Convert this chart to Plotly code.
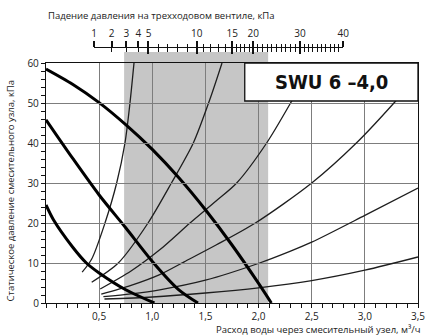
import numpy as np
import plotly.graph_objects as go

# ---------------- data ----------------
# thick curves (pump / mixing unit characteristics)
pump_a_q = [0, 0.25, 0.5, 0.75, 1.0, 1.25, 1.5, 1.75, 2.0, 2.12]
pump_a_h = [58.5, 54.7, 50.1, 44.6, 38.4, 31.3, 23.3, 14.5, 4.9, 0]
pump_b_q = [0, 0.25, 0.5, 0.75, 1.0, 1.25, 1.43]
pump_b_h = [45.8, 36.2, 27.0, 18.8, 10.4, 3.3, 0]
pump_c_q = [0, 0.07, 0.25, 0.38, 0.5, 0.75, 1.02]
pump_c_h = [24.5, 20.8, 14.0, 10.0, 7.5, 3.3, 0]

# thin curves (system characteristics)
sys1_q = [0.34, 0.43, 0.555, 0.665, 0.743, 0.79, 0.828]
sys1_h = [7.7, 11.0, 20, 30, 40, 50, 60]
sys2_q = [0.43, 0.68, 0.96, 1.18, 1.386, 1.543, 1.656]
sys2_h = [5.2, 10, 20, 30, 40, 51, 60]
sys3_q = [0.51, 0.8, 1.07, 1.355, 1.6, 1.794, 2.076, 2.31, 2.51]
sys3_h = [3.5, 8.0, 13.3, 20, 25.5, 30, 40, 50.4, 60]
sys4_q = [0.52, 0.8, 1.07, 1.3, 1.6, 1.97, 2.5, 2.92, 3.28, 3.5]
sys4_h = [2.2, 4.4, 7.1, 10.3, 14.5, 20, 30, 40, 50.2, 57]
sys5_q = [0.54, 0.8, 1.07, 1.5, 2.01, 2.295, 2.5, 3.0, 3.5]
sys5_h = [1.6, 2.3, 3.3, 5.7, 10, 12.9, 15.2, 21.9, 28.75]
sys6_q = [0.55, 1.0, 1.5, 2.0, 2.5, 3.0, 3.5]
sys6_h = [1.0, 1.5, 2.5, 3.8, 5.6, 8.2, 11.5]

# valve pressure-drop scale (kPa) and equivalent flow positions (m3/h)
dp_labels = [1, 2, 3, 4, 5, 10, 15, 20, 30, 40]
dp_flow = [0.4516, 0.6181, 0.7555, 0.8683, 0.9643, 1.4177, 1.7526, 1.9502, 2.3896, 2.7970]
dp_major = [1, 5, 10, 15, 20, 30, 40]

# recommended flow range (grey band)
band_q = [0.735, 2.09]

x_ticks = [0.5, 1.0, 1.5, 2.0, 2.5, 3.0, 3.5]
y_ticks = [0, 10, 20, 30, 40, 50, 60]
x_range = [0, 3.5]
y_range = [0, 60]
label_box = [1.87, 3.5, 50.5, 60]

title_top = "Падение давления на трехходовом вентиле, кПа"
title_x = "Расход воды через смесительный узел, м³/ч"
title_y = "Статическое давление смесительного узла, кПа"
model = "SWU 6 –4,0"

# ---------------- figure ----------------
FONT = "Open Sans"
fig = go.Figure()

thin = [(sys1_q, sys1_h), (sys2_q, sys2_h), (sys3_q, sys3_h),
        (sys4_q, sys4_h), (sys5_q, sys5_h), (sys6_q, sys6_h)]
for q, h in thin:
    fig.add_trace(go.Scatter(x=q, y=h, mode="lines",
                             line=dict(color="#1e1e1e", width=1.3, shape="spline", smoothing=0.8),
                             hoverinfo="skip", showlegend=False))
for q, h in [(pump_a_q, pump_a_h), (pump_b_q, pump_b_h), (pump_c_q, pump_c_h)]:
    fig.add_trace(go.Scatter(x=q, y=h, mode="lines",
                             line=dict(color="#000000", width=3, shape="spline", smoothing=0.8),
                             hoverinfo="skip", showlegend=False))

# invisible traces to activate the top pressure scale axes
dp_all = list(range(1, 41))
dp_minor_flow = list(np.interp(dp_all, dp_labels, dp_flow))
fig.add_trace(go.Scatter(x=[dp_flow[0], dp_flow[-1]], y=[None, None], xaxis="x2", yaxis="y",
                         mode="lines", showlegend=False, hoverinfo="skip"))
fig.add_trace(go.Scatter(x=[dp_flow[0], dp_flow[-1]], y=[None, None], xaxis="x3", yaxis="y",
                         mode="lines", showlegend=False, hoverinfo="skip"))

major_flow = [dp_flow[dp_labels.index(p)] for p in dp_major]

# layout geometry
W, H = 425, 336
ml, mr, mt, mb = 46, 7, 10, 33
paper_h = H - mt - mb
paper_w = W - ml - mr
y_dom_top = 240 / paper_h
scale_pos = (paper_h - (47.3 - mt)) / paper_h
band_top = (paper_h - (52 - mt)) / paper_h

dom = [dp_flow[0] / x_range[1], dp_flow[-1] / x_range[1]]

common_top = dict(range=[dp_flow[0], dp_flow[-1]], domain=dom, anchor="free",
                  position=scale_pos, side="top", showgrid=False, zeroline=False,
                  showline=True, linecolor="#111", linewidth=1.3, automargin=False)

fig.update_layout(
    template="none",
    width=W, height=H,
    margin=dict(l=ml, r=mr, t=mt, b=mb, autoexpand=False),
    paper_bgcolor="white", plot_bgcolor="rgba(0,0,0,0)",
    separators=", ",
    showlegend=False,
    font=dict(family=FONT, size=10, color="#222"),
    xaxis=dict(range=x_range, tickvals=x_ticks, tickformat=".1f", automargin=False,
               ticklabeloverflow="allow",
               showgrid=True, gridcolor="#7d7d7d", gridwidth=1.2,
               showline=True, linecolor="#111", linewidth=1.3, mirror=True,
               ticks="outside", ticklen=4, tickcolor="#111", tickwidth=1,
               minor=dict(dtick=0.1, tick0=0, ticks="outside", ticklen=4,
                          tickcolor="#111", tickwidth=1, showgrid=False),
               zeroline=False, tickfont=dict(size=10, family=FONT, color="#222")),
    yaxis=dict(range=y_range, tickvals=y_ticks, domain=[0, y_dom_top], automargin=False,
               showgrid=True, gridcolor="#7d7d7d", gridwidth=1.2,
               showline=True, linecolor="#111", linewidth=1.3, mirror=True,
               ticks="outside", ticklen=4, tickcolor="#111", tickwidth=1,
               minor=dict(dtick=2, tick0=0, ticks="outside", ticklen=4,
                          tickcolor="#111", tickwidth=1, showgrid=False),
               zeroline=False, tickfont=dict(size=10, family=FONT, color="#222")),
    xaxis2=dict(**common_top, tickvals=dp_flow, ticktext=[str(p) for p in dp_labels],
                ticks="outside", ticklen=6, tickwidth=1.5, tickcolor="#111",
                minor=dict(tickmode="array", tickvals=dp_minor_flow, ticks="outside",
                           ticklen=3.5, tickwidth=1, tickcolor="#111"),
                tickfont=dict(size=10, family=FONT, color="#222")),
    xaxis3=dict(**common_top, tickvals=major_flow, showticklabels=False,
                ticks="inside", ticklen=6, tickwidth=1.5, tickcolor="#111",
                minor=dict(tickmode="array", tickvals=dp_minor_flow, ticks="inside",
                           ticklen=4, tickwidth=1, tickcolor="#111")),
)

# grey band
fig.add_shape(type="rect", xref="x", yref="paper", x0=band_q[0], x1=band_q[1],
              y0=0, y1=band_top, fillcolor="#c6c6c6", line=dict(width=0), layer="below")
# label box
fig.add_shape(type="rect", xref="x", yref="y", x0=label_box[0], x1=label_box[1],
              y0=label_box[2], y1=label_box[3], fillcolor="white",
              line=dict(color="#111", width=1.3), layer="above")
fig.add_annotation(x=(label_box[0] + label_box[1]) / 2, y=(label_box[2] + label_box[3]) / 2,
                   xref="x", yref="y", text="<b>" + model + "</b>", showarrow=False,
                   font=dict(family="Liberation Sans Narrow, DejaVu Sans Condensed, Roboto",
                             size=20, color="#111"))

fig.add_annotation(x=0, y=(paper_h - (15 - mt)) / paper_h, xref="paper", yref="paper",
                   text=title_top, showarrow=False, xanchor="left", yanchor="middle",
                   font=dict(family=FONT, size=9.5, color="#222"))
fig.add_annotation(x=(423 - ml) / paper_w, y=-(329 - (H - mb)) / paper_h,
                   xref="paper", yref="paper", text=title_x, showarrow=False,
                   xanchor="right", yanchor="middle",
                   font=dict(family=FONT, size=9.5, color="#222"))
fig.add_annotation(x=(9.5 - ml) / paper_w, y=((H - mb) - 191) / paper_h,
                   xref="paper", yref="paper", text=title_y, showarrow=False,
                   textangle=-90, xanchor="center", yanchor="middle",
                   font=dict(family=FONT, size=9.5, color="#222"))

fig.write_html("out.html", config={"displayModeBar": False},
               post_script="document.body.style.margin='0';document.body.style.padding='0';")
